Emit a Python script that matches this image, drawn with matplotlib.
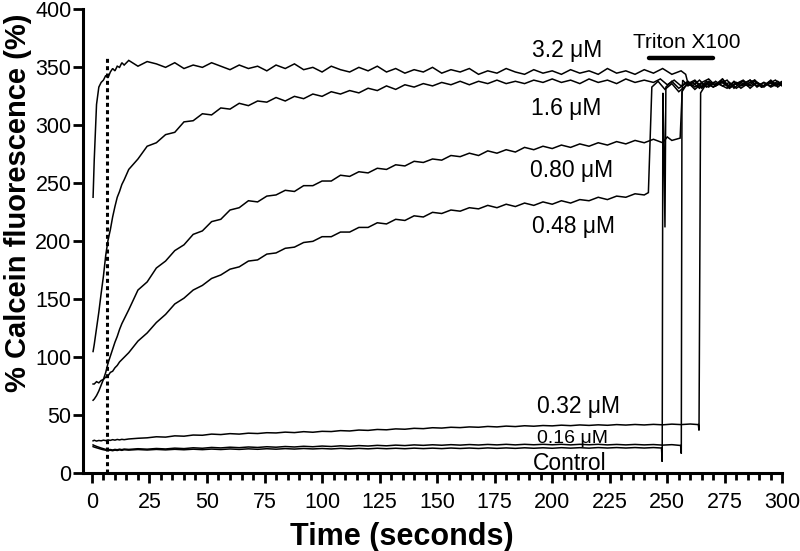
import matplotlib
matplotlib.use("Agg")
import matplotlib.pyplot as plt
from matplotlib.ticker import MultipleLocator

plt.rcParams['font.family'] = ['Liberation Sans', 'DejaVu Sans']

# common sampling times (s) before detergent addition
T = [0.5, 1, 2, 3, 4, 5, 6, 7, 8, 9, 10, 11, 12, 13, 14, 16, 20, 24, 28, 32, 36, 40, 44, 48,
     52, 56, 60, 64, 68, 72, 76, 80, 84, 88, 92, 96, 100, 104, 108, 112, 116, 120, 124, 128,
     132, 136, 140, 144, 148, 152, 156, 160, 164, 168, 172, 176, 180, 184, 188, 192, 196, 200,
     204, 208, 212, 216, 220, 224, 228, 232, 236, 240]

v_32 = [238, 270, 318, 333, 337, 339, 343, 341, 346, 349, 347, 351, 350, 354, 352, 356, 351, 355,
        353, 350, 354, 349, 352, 350, 354, 351, 348, 352, 349, 351, 347, 352, 349, 353, 348, 350,
        346, 351, 348, 346, 350, 347, 351, 346, 349, 345, 348, 346, 350, 345, 348, 346, 349, 344,
        347, 345, 349, 346, 344, 348, 345, 347, 344, 348, 345, 347, 344, 349, 345, 347, 344, 348]
t_32_tail = [244, 248, 252, 256, 258, 259, 262, 265, 268, 271, 274, 277, 280, 283, 286, 289, 292, 295, 298, 300]
v_32_tail = [345, 349, 344, 347, 344, 336, 339, 333, 338, 334, 340, 332, 337, 335, 339, 333, 337, 334, 338, 335]

v_16 = [105, 111, 125, 139, 155, 170, 188, 201, 210, 221, 230, 238, 243, 249, 253, 262, 271, 282,
        285, 292, 294, 303, 304, 310, 309, 315, 314, 319, 317, 321, 320, 324, 321, 325, 323, 327,
        325, 329, 327, 330, 328, 332, 330, 334, 331, 335, 333, 336, 334, 337, 335, 338, 335, 338,
        336, 339, 336, 338, 336, 339, 337, 340, 337, 339, 336, 340, 337, 339, 336, 340, 337, 339]
t_16_tail = [244, 247, 250, 253, 256, 259, 262, 265, 268, 271, 274, 277, 280, 283, 286, 289, 292, 295, 298, 300]
v_16_tail = [337, 340, 335, 339, 334, 338, 333, 337, 340, 334, 338, 332, 336, 339, 334, 337, 333, 338, 335, 337]

v_080 = [63, 64, 67, 71, 76, 81, 87, 95, 101, 107, 113, 118, 124, 129, 133, 141, 158, 165, 177,
         183, 192, 197, 206, 209, 217, 219, 227, 229, 235, 234, 239, 240, 244, 243, 248, 248, 252,
         252, 257, 256, 260, 259, 263, 262, 266, 265, 269, 268, 271, 270, 274, 273, 276, 274, 278,
         276, 279, 277, 281, 279, 282, 280, 283, 281, 284, 282, 285, 283, 286, 284, 287, 285]
t_080_tail = [244, 248, 250, 252, 255.6, 256.7, 259, 262, 265, 268, 271, 274, 277, 280, 283, 286, 289, 292, 295, 298, 300]
v_080_tail = [288, 285, 290, 287, 289, 339, 334, 338, 332, 337, 335, 340, 333, 336, 338, 332, 337, 334, 339, 333, 336]

v_048 = [77, 77, 79, 78, 80, 81, 83, 84, 87, 88, 91, 93, 96, 98, 100, 104, 114, 121, 130, 137, 146,
         151, 158, 162, 168, 171, 176, 178, 183, 184, 189, 190, 194, 195, 199, 200, 204, 204, 208,
         208, 212, 212, 216, 215, 219, 218, 222, 221, 225, 224, 227, 226, 229, 228, 231, 229, 232,
         230, 233, 231, 234, 232, 235, 233, 236, 235, 238, 236, 239, 238, 241, 240]
t_048_tail = [241.8, 243.3, 246, 249, 252, 255, 258, 261, 264, 267, 270, 273, 276, 279, 282, 285, 288, 291, 294, 297, 300]
v_048_tail = [242, 333, 338, 331, 336, 329, 334, 337, 332, 338, 333, 336, 339, 332, 337, 334, 338, 333, 336, 339, 334]

v_032 = [28, 28.5, 27.8, 28.3, 28, 28.6, 28.2, 28.8, 28.4, 29, 28.6, 29.2, 28.8, 29.3, 29, 29.6,
         30.2, 30.6, 31.5, 31.2, 32.3, 32, 33, 32.8, 33.8, 33.4, 34.2, 33.8, 34.6, 34.3, 35, 34.8,
         35.5, 35.1, 35.9, 35.4, 36.2, 36, 36.8, 36.5, 37.3, 37, 37.8, 37.5, 38.3, 38, 38.8, 38.5,
         39.3, 39, 39.7, 39.4, 40, 39.7, 40.4, 40, 40.7, 40.3, 41, 40.6, 41.2, 40.9, 41.5, 41.1,
         41.7, 41.3, 41.8, 41.4, 42, 41.6, 42.1, 41.7]
t_032_tail = [244, 248, 252, 256, 260, 263.5, 263.8, 264.5, 267, 270, 273, 276, 279, 282, 285, 288, 291, 294, 297, 300]
v_032_tail = [42.2, 41.8, 42.4, 42.0, 42.5, 42.0, 37, 328, 336, 333, 338, 334, 337, 332, 336, 339, 333, 337, 335, 338]

v_016 = [24.5, 24, 23.2, 22.5, 21.8, 21.2, 20.6, 20.2, 20.5, 20.1, 20.6, 20.3, 20.8, 20.4, 20.9,
         20.6, 21.2, 20.8, 21.4, 21, 21.7, 21.3, 22, 21.6, 22.3, 21.9, 22.5, 22.1, 22.7, 22.3, 22.9,
         22.5, 23.1, 22.7, 23.3, 22.9, 23.5, 23.1, 23.7, 23.3, 23.9, 23.5, 24.1, 23.7, 24.3, 23.9,
         24.5, 24.1, 24.6, 24.2, 24.7, 24.3, 24.8, 24.4, 24.9, 24.5, 25, 24.5, 25, 24.6, 25, 24.6,
         25, 24.5, 25, 24.6, 25, 24.5, 24.9, 24.5, 24.9, 24.5]
t_016_tail = [244, 248, 252, 255.8, 256.1, 256.4, 259, 262, 265, 268, 271, 274, 277, 280, 283, 286, 289, 292, 295, 298, 300]
v_016_tail = [24.8, 24.3, 24.7, 24.0, 17, 329, 337, 331, 336, 333, 338, 334, 337, 332, 336, 339, 334, 337, 333, 336, 334]

v_ctrl = [23, 22.6, 22, 21.4, 20.8, 20.3, 19.9, 19.6, 19.9, 19.5, 20, 19.7, 20.2, 19.8, 20.3, 20,
          20.5, 20.1, 20.6, 20.2, 20.7, 20.3, 20.8, 20.4, 20.9, 20.5, 21, 20.6, 21.1, 20.7, 21.2,
          20.8, 21.3, 20.9, 21.4, 21, 21.4, 21, 21.5, 21.1, 21.5, 21.1, 21.6, 21.2, 21.6, 21.2,
          21.7, 21.3, 21.7, 21.3, 21.8, 21.4, 21.8, 21.4, 21.9, 21.5, 21.9, 21.5, 22, 21.6, 22,
          21.6, 22.1, 21.7, 22.1, 21.7, 22.2, 21.8, 22.2, 21.8, 22.2, 21.8]
t_ctrl_tail = [244, 247.5, 247.8, 248.1, 248.5, 249.0, 249.4, 252, 255, 258, 261, 264, 267, 270,
               273, 276, 279, 282, 285, 288, 291, 294, 297, 300]
v_ctrl_tail = [22.2, 21.8, 10, 328, 290, 212, 333, 338, 332, 336, 334, 339, 333, 337, 335, 332,
               338, 334, 336, 339, 333, 337, 334, 336]

series = [
    (v_32, t_32_tail, v_32_tail),
    (v_16, t_16_tail, v_16_tail),
    (v_080, t_080_tail, v_080_tail),
    (v_048, t_048_tail, v_048_tail),
    (v_032, t_032_tail, v_032_tail),
    (v_016, t_016_tail, v_016_tail),
    (v_ctrl, t_ctrl_tail, v_ctrl_tail),
]

labels = ["3.2 μM", "1.6 μM", "0.80 μM", "0.48 μM", "0.32 μM", "0.16 μM", "Control"]
label_x = [206.3, 206.0, 208.5, 209.2, 211.6, 208.9, 207.4]
label_y = [359, 309, 255.7, 206.9, 51.7, 25.9, 2.8]
label_size = [16.5, 16.5, 16.5, 16.5, 16.5, 14, 16.5]

injection_time = 6.6
triton_span = [242.2, 270.0]
triton_level = 358

fig = plt.figure(figsize=(8.0, 5.51), dpi=100)
ax = fig.add_axes([0.1034, 0.141, 0.8745, 0.842])

for main, tt, tv in series:
    ax.plot(list(T) + tt, list(main) + tv, color='black', lw=1.1, solid_joinstyle='miter')

ax.plot([injection_time, injection_time], [0, 358], color='black', lw=2.2,
        linestyle=(0, (1.3, 1.1)))

ax.plot(triton_span, [triton_level, triton_level], color='black', lw=3.2, solid_capstyle='round')
ax.text(sum(triton_span) / 2 + 2.5, 366.4, "Triton X100", ha='center', va='baseline', fontsize=15)

for lab, x, y, s in zip(labels, label_x, label_y, label_size):
    ax.text(x, y, lab, ha='center', va='baseline', fontsize=s)

ax.set_xlim(-4, 300)
ax.set_ylim(0, 400)
ax.set_xticks(range(0, 301, 25))
ax.set_yticks(range(0, 401, 50))
ax.xaxis.set_minor_locator(MultipleLocator(5))

for side in ['top', 'right']:
    ax.spines[side].set_visible(False)
for side in ['left', 'bottom']:
    ax.spines[side].set_linewidth(2.2)

ax.tick_params(axis='both', which='major', direction='out', width=2.0, length=7.5, labelsize=15.5)
ax.tick_params(axis='x', which='major', pad=6)
ax.tick_params(axis='y', which='major', pad=0.5)
ax.tick_params(axis='x', which='minor', direction='out', width=2.0, length=5)

ax.set_xlabel("Time (seconds)", fontsize=22, fontweight='bold')
ax.set_ylabel("% Calcein fluorescence (%)", fontsize=21, fontweight='bold')
ax.xaxis.set_label_coords(0.456, -0.105)
ax.yaxis.set_label_coords(-0.073, 0.583)

fig.savefig("out.png", dpi=100)
